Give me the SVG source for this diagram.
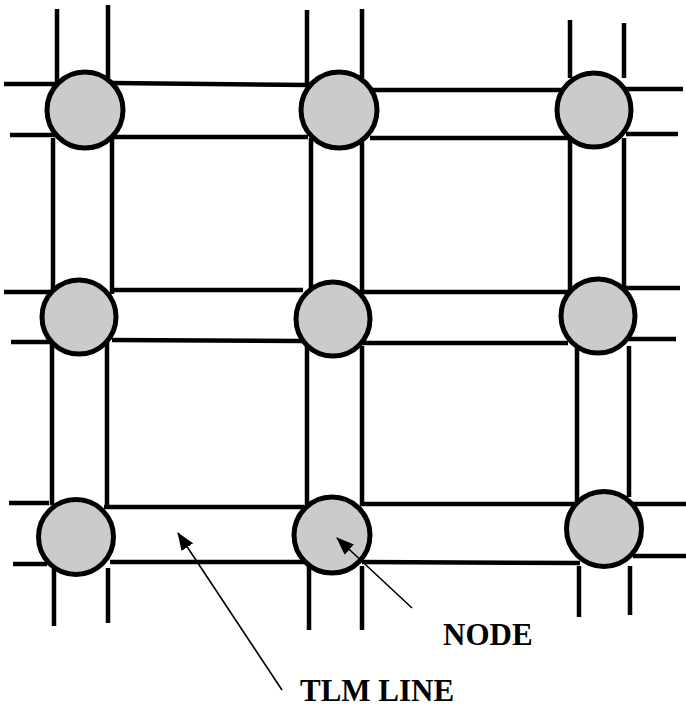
<svg xmlns="http://www.w3.org/2000/svg" width="686" height="708" viewBox="0 0 686 708">
  <style>
    .tl { stroke: #000; stroke-width: 4.5; fill: none; }
    .node { fill: #cbcbcb; stroke: #000; stroke-width: 5; }
    .lead { stroke: #000; stroke-width: 1.6; fill: none; }
    .label { font-family: "Liberation Serif", "Times New Roman", serif; font-weight: bold; font-size: 31px; fill: #000; }
  </style>
  <defs>
    <marker id="arrow" markerUnits="userSpaceOnUse" markerWidth="18" markerHeight="14" refX="17" refY="7" orient="auto">
      <path d="M0,0 L18,7 L0,14 Z" fill="#000"/>
    </marker>
  </defs>
  <rect width="686" height="708" fill="#fff"/>

  <!-- transmission line pairs between nodes and open stubs at the edges -->
  <g id="connectors" class="tl">
    <!-- row 1 horizontals -->
    <line x1="4" y1="84" x2="60" y2="84"/>
    <line x1="10" y1="135" x2="58" y2="135"/>
    <line x1="112" y1="83" x2="308" y2="85"/>
    <line x1="112" y1="137" x2="308" y2="137"/>
    <line x1="370" y1="90" x2="568" y2="90"/>
    <line x1="370" y1="138" x2="568" y2="138"/>
    <line x1="626" y1="89" x2="683" y2="89"/>
    <line x1="626" y1="134" x2="678" y2="134"/>
    <!-- row 2 horizontals -->
    <line x1="4" y1="292" x2="52" y2="292"/>
    <line x1="11" y1="342" x2="52" y2="342"/>
    <line x1="112" y1="290" x2="303" y2="290"/>
    <line x1="112" y1="340" x2="303" y2="341"/>
    <line x1="360" y1="292" x2="568" y2="292"/>
    <line x1="360" y1="343" x2="568" y2="343"/>
    <line x1="625" y1="288" x2="680" y2="288"/>
    <line x1="627" y1="339" x2="676" y2="339"/>
    <!-- row 3 horizontals -->
    <line x1="9" y1="503" x2="49" y2="503"/>
    <line x1="13" y1="564" x2="47" y2="564"/>
    <line x1="104" y1="507" x2="304" y2="507"/>
    <line x1="110" y1="562" x2="304" y2="562"/>
    <line x1="360" y1="504" x2="575" y2="504"/>
    <line x1="362" y1="562" x2="580" y2="563"/>
    <line x1="631" y1="504" x2="686" y2="504"/>
    <line x1="633" y1="556" x2="686" y2="556"/>
    <!-- column 1 verticals -->
    <line x1="57" y1="9" x2="57" y2="82"/>
    <line x1="108" y1="5" x2="108" y2="78"/>
    <line x1="53" y1="138" x2="53" y2="292"/>
    <line x1="112" y1="138" x2="112" y2="294"/>
    <line x1="52" y1="342" x2="52" y2="505"/>
    <line x1="107" y1="342" x2="107" y2="507"/>
    <line x1="54" y1="568" x2="54" y2="626"/>
    <line x1="108" y1="568" x2="108" y2="623"/>
    <!-- column 2 verticals -->
    <line x1="307" y1="10" x2="307" y2="85"/>
    <line x1="362" y1="9" x2="362" y2="78"/>
    <line x1="311" y1="138" x2="311" y2="292"/>
    <line x1="362" y1="142" x2="362" y2="294"/>
    <line x1="307" y1="346" x2="307" y2="509"/>
    <line x1="362" y1="346" x2="362" y2="505"/>
    <line x1="309" y1="566" x2="309" y2="630"/>
    <line x1="362" y1="566" x2="362" y2="630"/>
    <!-- column 3 verticals -->
    <line x1="570" y1="20" x2="570" y2="78"/>
    <line x1="624" y1="23" x2="624" y2="78"/>
    <line x1="570" y1="138" x2="570" y2="294"/>
    <line x1="624" y1="138" x2="624" y2="290"/>
    <line x1="577" y1="346" x2="577" y2="505"/>
    <line x1="629" y1="346" x2="629" y2="497"/>
    <line x1="579" y1="566" x2="579" y2="617"/>
    <line x1="630" y1="566" x2="630" y2="615"/>
  </g>

  <!-- scattering nodes -->
  <g id="node-1-1"><circle class="node" cx="85" cy="110" r="38"/></g>
  <g id="node-1-2"><circle class="node" cx="339" cy="110" r="38"/></g>
  <g id="node-1-3"><circle class="node" cx="594" cy="110" r="37"/></g>
  <g id="node-2-1"><circle class="node" cx="79" cy="317" r="37"/></g>
  <g id="node-2-2"><circle class="node" cx="333" cy="319" r="37"/></g>
  <g id="node-2-3"><circle class="node" cx="598" cy="316" r="37"/></g>
  <g id="node-3-1"><circle class="node" cx="76" cy="537" r="37.5"/></g>
  <g id="node-3-2"><circle class="node" cx="332" cy="535" r="38"/></g>
  <g id="node-3-3"><circle class="node" cx="604" cy="529" r="37.5"/></g>

  <!-- callouts -->
  <g id="callout-node">
    <line class="lead" x1="412" y1="608" x2="337" y2="538" marker-end="url(#arrow)"/>
    <text class="label" x="443" y="645">NODE</text>
  </g>
  <g id="callout-tlm">
    <line class="lead" x1="282" y1="690" x2="178" y2="533" marker-end="url(#arrow)"/>
    <text class="label" x="300" y="701">TLM LINE</text>
  </g>
</svg>
